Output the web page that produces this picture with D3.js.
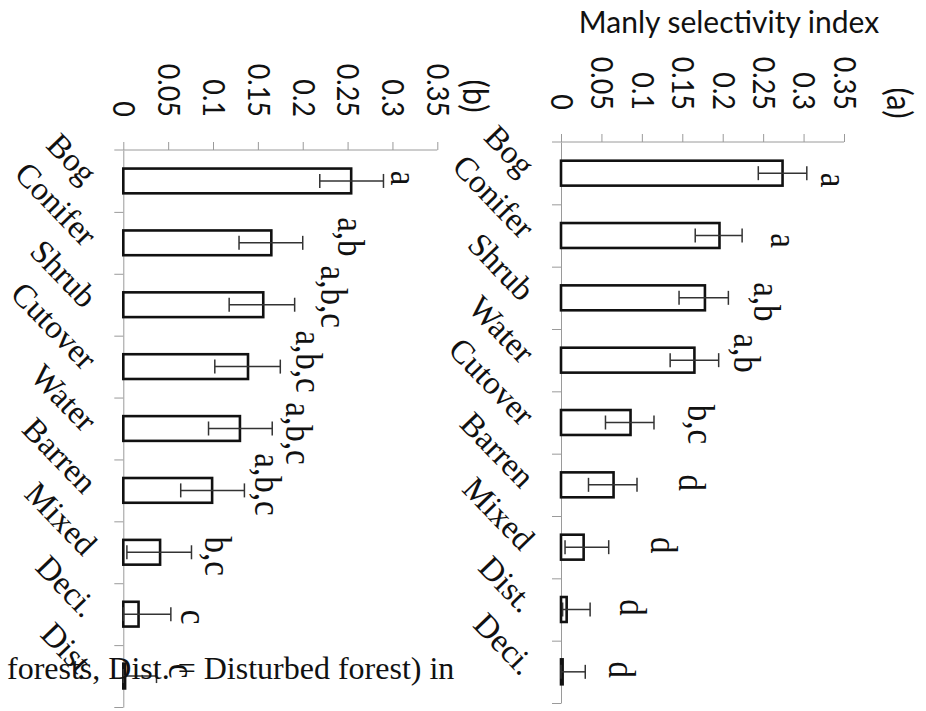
<!DOCTYPE html>
<meta charset="utf-8">
<style>
body { margin: 0; background: #fff; }
svg { display: block; }
.tick-label, .tag, .title { font-family: Lato, "Open Sans", sans-serif; fill: #111; }
.cat, .letter, .caption { font-family: "Liberation Serif", "Times New Roman", serif; fill: #111; }
.bar { fill: #fff; stroke: #111; stroke-width: 2.6; }
.err { stroke: #333; stroke-width: 1.5; }
.axis-line { stroke: #9a9a9a; stroke-width: 1; }
</style>
<body>
<svg width="926" height="711"></svg>
<script src="https://d3js.org/d3.v7.min.js"></script>
<script>

// value axis ticks (shared by both panels)
var ticks = [0, 0.05, 0.1, 0.15, 0.2, 0.25, 0.3, 0.35];

// panel (a)
var catsA = ["Bog", "Conifer", "Shrub", "Water", "Cutover", "Barren", "Mixed", "Dist.", "Deci."];
var valA = [0.274, 0.196, 0.178, 0.165, 0.086, 0.065, 0.028, 0.007, 0.002];
var errLoA = [0.030, 0.030, 0.032, 0.030, 0.031, 0.031, 0.023, 0.005, 0.002];
var errHiA = [0.030, 0.028, 0.029, 0.030, 0.029, 0.029, 0.031, 0.029, 0.028];
var lettersA = ["a", "a", "a,b", "a,b", "b,c", "d", "d", "d", "d"];
var letterAtA = [0.332, 0.270, 0.249, 0.225, 0.168, 0.157, 0.122, 0.083, 0.070];

// panel (b)
var catsB = ["Bog", "Conifer", "Shrub", "Cutover", "Water", "Barren", "Mixed", "Deci.", "Dist."];
var valB = [0.254, 0.165, 0.156, 0.139, 0.130, 0.099, 0.041, 0.017, 0.002];
var errLoB = [0.035, 0.036, 0.038, 0.037, 0.035, 0.035, 0.037, 0.017, 0.002];
var errHiB = [0.036, 0.035, 0.035, 0.036, 0.036, 0.036, 0.035, 0.036, 0.035];
var lettersB = ["a", "a,b", "a,b,c", "a,b,c", "a,b,c", "a,b,c", "b,c", "c", "c"];
var letterAtB = [0.308, 0.249, 0.230, 0.202, 0.191, 0.156, 0.100, 0.074, 0.060];

var svg = d3.select("svg");

// the rotated figure is a bit wider than tall
var SX = 1.12;

function drawPanel(p) {
  var n = p.cats.length;
  var x = d3.scaleLinear().domain([0, 0.35]).range([p.left, p.right]);
  var y = d3.scaleBand().domain(d3.range(n)).range([p.top, p.bottom])
      .paddingInner(0.6).paddingOuter(0.3);
  var yIdx = d3.scaleLinear().domain([0, n]).range([p.top, p.bottom]);
  var g = svg.append("g");

  // value axis along the top
  var ax = g.append("g")
      .attr("transform", "translate(0," + p.top + ")")
      .call(d3.axisTop(x).tickValues(ticks).tickSize(8).tickSizeOuter(0).tickFormat(d3.format("")));
  ax.attr("font-size", null).attr("font-family", null);
  ax.select(".domain").remove();
  ax.append("line").attr("class", "axis-line")
      .attr("x1", p.left - 9).attr("x2", p.right);
  ax.selectAll(".tick line").attr("class", "axis-line");
  ax.selectAll(".tick text")
      .attr("class", "tick-label")
      .attr("x", null).attr("y", null)
      .attr("dy", "0.35em")
      .attr("text-anchor", "end")
      .attr("transform", "translate(0," + (-p.tickGap) + ") scale(" + SX + ",1) rotate(90)")
      .style("font-size", "27px");

  // category axis down the left
  var cax = g.append("g")
      .attr("transform", "translate(" + p.left + ",0)")
      .call(d3.axisLeft(yIdx).tickValues(d3.range(1, n + 1)).tickSize(9).tickSizeOuter(0).tickFormat(""));
  cax.select(".domain").attr("class", "axis-line").attr("stroke", null);
  cax.selectAll(".tick line").attr("class", "axis-line").attr("stroke", null);

  // category names
  g.selectAll(".cat")
    .data(p.cats)
    .join("text")
      .attr("class", "cat")
      .attr("text-anchor", "end")
      .attr("dy", "0.35em")
      .attr("transform", function(d, i) {
        return "translate(" + (p.left - 32) + "," + (y(i) + y.bandwidth() / 2 - 3) + ") rotate(46)";
      })
      .style("font-size", "33px")
      .text(function(d) { return d; });

  // bars
  g.selectAll(".bar")
    .data(p.vals)
    .join("rect")
      .attr("class", "bar")
      .attr("x", x(0))
      .attr("y", function(d, i) { return y(i); })
      .attr("width", function(d) { return x(d) - x(0); })
      .attr("height", y.bandwidth());

  // error bars
  var eg = g.selectAll(".errg")
    .data(p.vals)
    .join("g")
      .attr("transform", function(d, i) { return "translate(0," + (y(i) + y.bandwidth() / 2) + ")"; });
  eg.append("line").attr("class", "err")
      .attr("x1", function(d, i) { return x(d - p.lo[i]); })
      .attr("x2", function(d, i) { return x(d + p.hi[i]); });
  eg.append("line").attr("class", "err")
      .attr("x1", function(d, i) { return x(d - p.lo[i]); })
      .attr("x2", function(d, i) { return x(d - p.lo[i]); })
      .attr("y1", -7).attr("y2", 7);
  eg.append("line").attr("class", "err")
      .attr("x1", function(d, i) { return x(d + p.hi[i]); })
      .attr("x2", function(d, i) { return x(d + p.hi[i]); })
      .attr("y1", -7).attr("y2", 7);

  // significance letters
  g.selectAll(".letter")
    .data(p.letters)
    .join("text")
      .attr("class", "letter")
      .attr("text-anchor", "middle")
      .attr("dy", "0.23em")
      .attr("transform", function(d, i) {
        var cy = y(i) + y.bandwidth() / 2 + p.letterNudge[i];
        return "translate(" + x(p.letterAt[i]) + "," + cy + ") scale(" + SX + ",1) rotate(90)";
      })
      .style("font-size", "33px")
      .text(function(d) { return d; });

  // panel tag
  g.append("text")
      .attr("class", "tag")
      .attr("text-anchor", "middle")
      .attr("dy", "0.35em")
      .attr("transform", "translate(" + p.tagX + "," + p.tagY + ") scale(" + SX + ",1) rotate(90)")
      .style("font-size", "31px")
      .text(p.tag);
}

drawPanel({
  cats: catsA, vals: valA, lo: errLoA, hi: errHiA, letters: lettersA, letterAt: letterAtA,
  letterNudge: [7, 5, 4, -7, 2, -2, -2, -2, -2],
  left: 561, right: 844, top: 142, bottom: 703, tickGap: 32,
  tag: "(a)", tagX: 899, tagY: 103
});

drawPanel({
  cats: catsB, vals: valB, lo: errLoB, hi: errHiB, letters: lettersB, letterAt: letterAtB,
  letterNudge: [-3, -6, -8, -5, 5, -6, 4, 3, -5],
  left: 123.3, right: 437.3, top: 150, bottom: 707, tickGap: 33,
  tag: "(b)", tagX: 475, tagY: 96
});

// axis title
svg.append("text")
    .attr("class", "title")
    .attr("x", 729).attr("y", 33)
    .attr("text-anchor", "middle")
    .style("font-size", "30px")
    .text("Manly selectivity index");

// stray caption line from the page, on top of the chart
svg.append("text")
    .attr("class", "caption")
    .attr("x", 7).attr("y", 679)
    .style("font-size", "32px")
    .text("forests, Dist. = Disturbed forest) in");

</script>
</body>
